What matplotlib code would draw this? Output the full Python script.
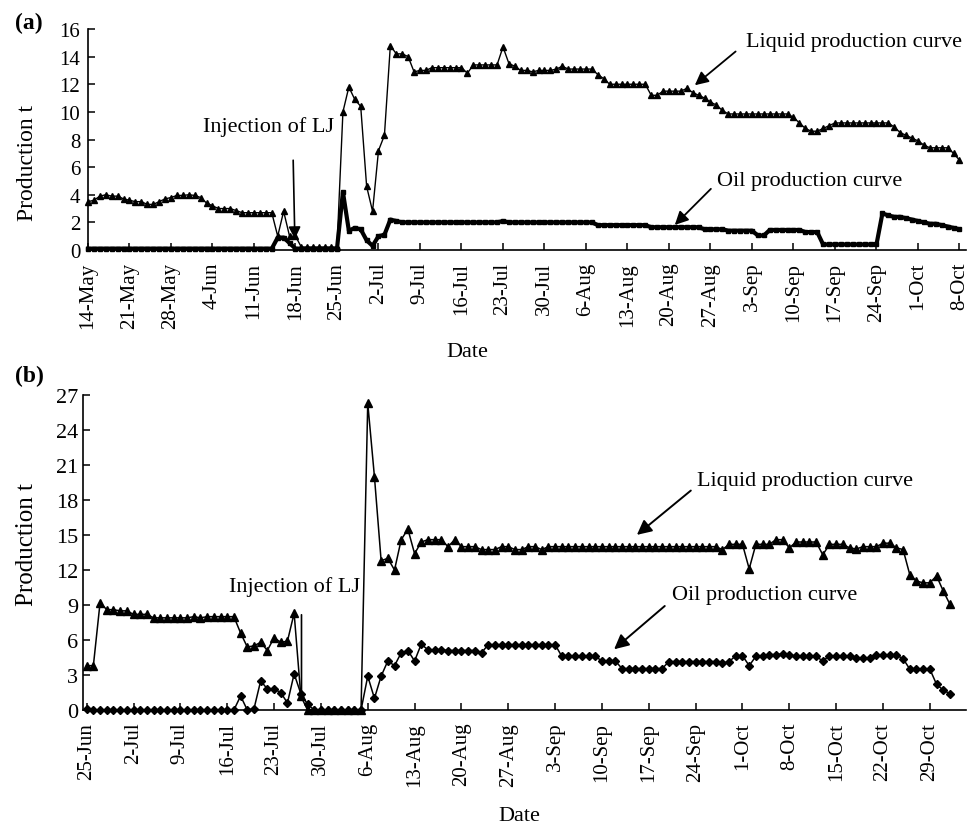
import pandas as pd
import matplotlib
matplotlib.use('Agg')
import matplotlib.pyplot as plt
import matplotlib.dates as mdates

plt.rcParams['font.family'] = ['Liberation Serif', 'DejaVu Serif']

W, H = 978, 828

# panel (a): daily values from 14-May
start_a = '2007-05-14'
liquid_a = [3.5, 3.6, 3.9, 4.0, 3.9, 3.9, 3.7, 3.6, 3.5, 3.5,
            3.3, 3.3, 3.5, 3.7, 3.8, 3.95, 3.95, 4.0, 3.95, 3.8,
            3.4, 3.2, 3.0, 3.0, 3.0, 2.85, 2.7, 2.7, 2.7, 2.7,
            2.7, 2.7, 1.0, 2.8, 1.0, 1.0, 0.2, 0.2, 0.2, 0.2,
            0.2, 0.2, 0.2, 10.0, 11.8, 10.9, 10.4, 4.6, 2.8, 7.2,
            8.3, 14.8, 14.2, 14.2, 14.0, 12.9, 13.0, 13.0, 13.2, 13.2,
            13.2, 13.2, 13.2, 13.2, 12.8, 13.4, 13.4, 13.4, 13.4, 13.4,
            14.7, 13.5, 13.3, 13.0, 13.0, 12.9, 13.0, 13.0, 13.0, 13.1,
            13.3, 13.1, 13.1, 13.1, 13.1, 13.1, 12.7, 12.4, 12.0, 12.0,
            12.0, 12.0, 12.0, 12.0, 12.0, 11.2, 11.2, 11.5, 11.5, 11.5,
            11.5, 11.7, 11.4, 11.2, 11.0, 10.7, 10.5, 10.1, 9.85, 9.85,
            9.85, 9.85, 9.85, 9.85, 9.85, 9.85, 9.85, 9.85, 9.85, 9.6,
            9.2, 8.8, 8.6, 8.6, 8.8, 9.0, 9.2, 9.2, 9.2, 9.2,
            9.2, 9.2, 9.2, 9.2, 9.2, 9.2, 8.9, 8.5, 8.3, 8.1,
            7.9, 7.6, 7.4, 7.4, 7.4, 7.4, 7.0, 6.5]
oil_a = [0.1, 0.1, 0.1, 0.1, 0.1, 0.1, 0.1, 0.1, 0.1, 0.1,
         0.1, 0.1, 0.1, 0.1, 0.1, 0.1, 0.1, 0.1, 0.1, 0.1,
         0.1, 0.1, 0.1, 0.1, 0.1, 0.1, 0.1, 0.1, 0.1, 0.1,
         0.1, 0.1, 0.9, 0.9, 0.5, 0.1, 0.1, 0.1, 0.1, 0.1,
         0.1, 0.1, 0.1, 4.2, 1.4, 1.6, 1.5, 0.7, 0.3, 1.0,
         1.1, 2.2, 2.1, 2.0, 2.0, 2.0, 2.0, 2.0, 2.0, 2.0,
         2.0, 2.0, 2.0, 2.0, 2.0, 2.0, 2.0, 2.0, 2.0, 2.0,
         2.1, 2.0, 2.0, 2.0, 2.0, 2.0, 2.0, 2.0, 2.0, 2.0,
         2.0, 2.0, 2.0, 2.0, 2.0, 2.0, 1.8, 1.8, 1.8, 1.8,
         1.8, 1.8, 1.8, 1.8, 1.8, 1.65, 1.65, 1.65, 1.65, 1.65,
         1.65, 1.65, 1.65, 1.65, 1.5, 1.5, 1.5, 1.5, 1.4, 1.4,
         1.4, 1.4, 1.4, 1.05, 1.05, 1.45, 1.45, 1.45, 1.45, 1.45,
         1.45, 1.3, 1.3, 1.3, 0.4, 0.4, 0.4, 0.4, 0.4, 0.4,
         0.4, 0.4, 0.4, 0.4, 2.65, 2.5, 2.4, 2.4, 2.3, 2.2,
         2.1, 2.0, 1.9, 1.9, 1.8, 1.7, 1.6, 1.5]

# panel (b): daily values from 25-Jun
start_b = '2007-06-25'
liquid_b = [3.8, 3.8, 9.2, 8.6, 8.6, 8.5, 8.5, 8.2, 8.2, 8.2,
            7.9, 7.9, 7.9, 7.9, 7.9, 7.9, 8.0, 7.9, 8.0, 8.0,
            8.0, 8.0, 8.0, 6.6, 5.4, 5.5, 5.8, 5.1, 6.2, 5.8,
            5.9, 8.3, 1.2, 0.0, 0.0, 0.0, 0.0, 0.0, 0.0, 0.0,
            0.0, 0.0, 26.3, 20.0, 12.8, 13.0, 12.0, 14.6, 15.5, 13.4,
            14.4, 14.6, 14.6, 14.6, 14.0, 14.6, 14.0, 14.0, 14.0, 13.75,
            13.75, 13.75, 14.0, 14.0, 13.75, 13.75, 14.0, 14.0, 13.75, 14.0,
            14.0, 14.0, 14.0, 14.0, 14.0, 14.0, 14.0, 14.0, 14.0, 14.0,
            14.0, 14.0, 14.0, 14.0, 14.0, 14.0, 14.0, 14.0, 14.0, 14.0,
            14.0, 14.0, 14.0, 14.0, 14.0, 13.75, 14.2, 14.2, 14.2, 12.1,
            14.2, 14.2, 14.2, 14.6, 14.6, 13.9, 14.4, 14.4, 14.4, 14.4,
            13.3, 14.2, 14.2, 14.2, 13.9, 13.8, 14.0, 14.0, 14.0, 14.3,
            14.3, 13.9, 13.75, 11.6, 11.05, 10.9, 10.9, 11.5, 10.2, 9.06]
oil_b = [0.1, 0.0, 0.0, 0.0, 0.0, 0.0, 0.0, 0.0, 0.0, 0.0,
         0.0, 0.0, 0.0, 0.0, 0.0, 0.0, 0.0, 0.0, 0.0, 0.0,
         0.0, 0.0, 0.0, 1.2, 0.0, 0.1, 2.5, 1.8, 1.8, 1.5,
         0.6, 3.1, 1.4, 0.5, 0.0, 0.0, 0.0, 0.0, 0.0, 0.0,
         0.0, 0.0, 2.9, 1.0, 2.9, 4.2, 3.8, 4.9, 5.1, 4.2,
         5.65, 5.15, 5.15, 5.15, 5.1, 5.1, 5.1, 5.1, 5.1, 4.9,
         5.6, 5.6, 5.6, 5.6, 5.6, 5.6, 5.6, 5.6, 5.6, 5.6,
         5.6, 4.6, 4.6, 4.6, 4.6, 4.6, 4.6, 4.2, 4.2, 4.2,
         3.55, 3.55, 3.55, 3.55, 3.55, 3.55, 3.55, 4.15, 4.15, 4.15,
         4.15, 4.15, 4.15, 4.15, 4.15, 4.0, 4.15, 4.65, 4.65, 3.8,
         4.6, 4.6, 4.75, 4.75, 4.8, 4.75, 4.6, 4.6, 4.6, 4.6,
         4.2, 4.65, 4.65, 4.65, 4.65, 4.45, 4.45, 4.45, 4.7, 4.7,
         4.7, 4.7, 4.4, 3.5, 3.5, 3.5, 3.5, 2.2, 1.7, 1.4]

yticks_a = list(range(0, 17, 2))
yticks_b = list(range(0, 28, 3))

dates_a = pd.date_range(start_a, periods=len(liquid_a), freq='D')
dates_b = pd.date_range(start_b, periods=len(liquid_b), freq='D')
x0a = mdates.date2num(dates_a[0])
x0b = mdates.date2num(dates_b[0])


def box(left, top, right, bottom):
    return [left / W, 1 - bottom / H, (right - left) / W, (bottom - top) / H]


def ftext(x, y, s, **kw):
    fig.text(x / W, 1 - y / H, s, **kw)


fig = plt.figure(figsize=(W / 100, H / 100), dpi=100)
ax_a = fig.add_axes(box(88, 30, 966, 251))
ax_b = fig.add_axes(box(83, 396, 966, 711))

# ---- panel (a)
ax_a.plot(dates_a, liquid_a, color='k', lw=1.0, marker='^', ms=4.5,
          clip_on=False, zorder=3)
ax_a.plot(dates_a, oil_a, color='k', lw=3.0, marker='s', ms=3.5,
          clip_on=False, zorder=3)
ax_a.set_xlim(x0a, x0a + 148.1)
ax_a.set_ylim(0, 16)
ax_a.set_yticks(yticks_a)
ax_a.set_xticks(pd.date_range(start_a, periods=22, freq='7D'))

ax_a.text(x0a + 30.4, 9.0, 'Injection of LJ', fontsize=16, ha='center', va='center')
ax_a.annotate('', xy=(x0a + 34.9, 0.6), xytext=(x0a + 34.6, 6.7),
              arrowprops=dict(arrowstyle='-|>', color='k', lw=1.2, mutation_scale=18))
ax_a.text(x0a + 111, 15.07, 'Liquid production curve', fontsize=16, va='center')
ax_a.annotate('', xy=(x0a + 102.0, 11.8), xytext=(x0a + 109.6, 14.5),
              arrowprops=dict(arrowstyle='-|>', color='k', lw=1.3, mutation_scale=20))
ax_a.text(x0a + 106.1, 5.0, 'Oil production curve', fontsize=16, va='center')
ax_a.annotate('', xy=(x0a + 98.65, 1.67), xytext=(x0a + 105.4, 4.57),
              arrowprops=dict(arrowstyle='-|>', color='k', lw=1.3, mutation_scale=20))

# ---- panel (b)
ax_b.plot(dates_b, liquid_b, color='k', lw=1.1, marker='^', ms=6,
          clip_on=False, zorder=3)
ax_b.plot(dates_b, oil_b, color='k', lw=1.1, marker='D', ms=4,
          clip_on=False, zorder=3)
ax_b.set_xlim(x0b - 0.55, x0b + 131.4)
ax_b.set_ylim(0, 27)
ax_b.set_yticks(yticks_b)
ax_b.set_xticks(pd.date_range(start_b, periods=19, freq='7D'))

ax_b.text(x0b + 31.1, 10.6, 'Injection of LJ', fontsize=16, ha='center', va='center')
ax_b.annotate('', xy=(x0b + 32.1, 0.8), xytext=(x0b + 32.1, 8.4),
              arrowprops=dict(arrowstyle='-', color='k', lw=1.2))
ax_b.text(x0b + 91.2, 19.7, 'Liquid production curve', fontsize=16, va='center')
ax_b.annotate('', xy=(x0b + 81.9, 14.86), xytext=(x0b + 90.6, 18.96),
              arrowprops=dict(arrowstyle='-|>', color='k', lw=1.4, mutation_scale=22))
ax_b.text(x0b + 87.4, 9.9, 'Oil production curve', fontsize=16, va='center')
ax_b.annotate('', xy=(x0b + 78.5, 5.05), xytext=(x0b + 86.7, 9.07),
              arrowprops=dict(arrowstyle='-|>', color='k', lw=1.4, mutation_scale=22))

for ax in (ax_a, ax_b):
    ax.xaxis.set_major_formatter(mdates.DateFormatter('%-d-%b'))
    for s in ('top', 'right'):
        ax.spines[s].set_visible(False)
    for s in ('left', 'bottom'):
        ax.spines[s].set_linewidth(1.2)
    ax.tick_params(direction='in', length=5, width=1.1)
    plt.setp(ax.get_xticklabels(), rotation=90)

ax_a.tick_params(axis='x', labelsize=15, pad=8.5)
ax_a.tick_params(axis='y', labelsize=15, pad=5.5)
ax_b.tick_params(axis='x', labelsize=15, pad=8.5)
ax_b.tick_params(axis='y', labelsize=16, pad=3.5)

ftext(29, 23, '(a)', fontsize=17, fontweight='bold', ha='center', va='center')
ftext(29, 376, '(b)', fontsize=17, fontweight='bold', ha='center', va='center')
ftext(28, 163, 'Production t', fontsize=17, rotation=90, ha='center', va='center')
ftext(27, 545, 'Production t', fontsize=18, rotation=90, ha='center', va='center')
ftext(467, 353, 'Date', fontsize=16, ha='center', va='center')
ftext(519, 817, 'Date', fontsize=16, ha='center', va='center')

fig.savefig('out.png', dpi=100)
